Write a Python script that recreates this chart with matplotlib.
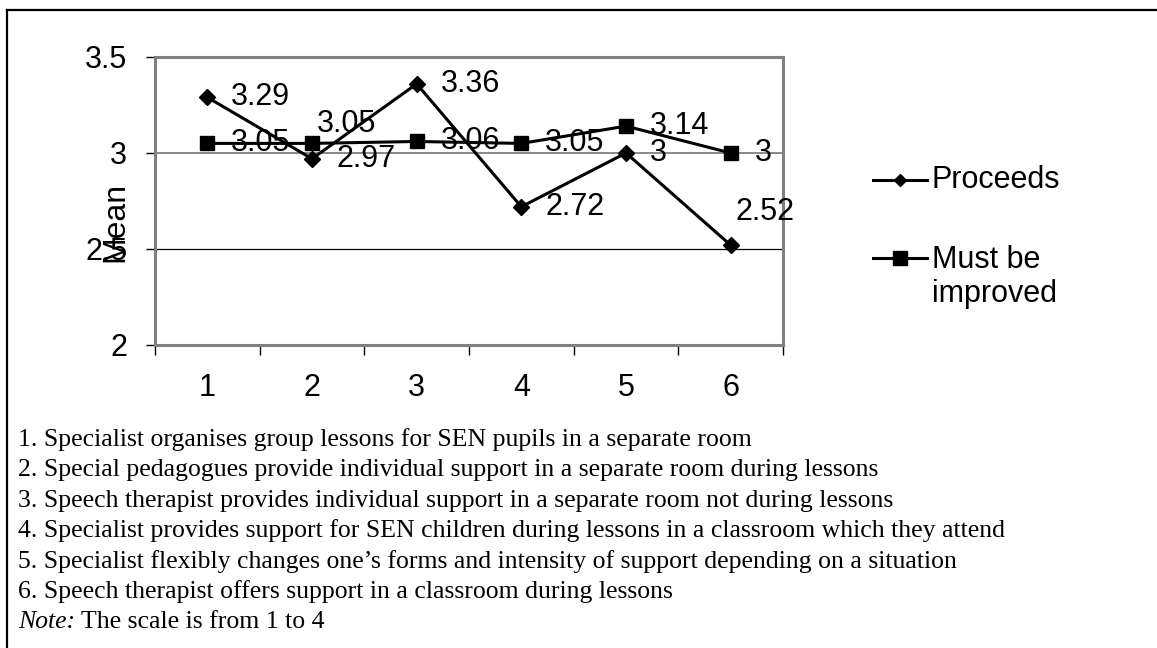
import matplotlib
matplotlib.use('Agg')
import matplotlib.pyplot as plt
from matplotlib.lines import Line2D

# ---- data ----
items     = [1, 2, 3, 4, 5, 6]
proceeds  = [3.29, 2.97, 3.36, 2.72, 3.00, 2.52]
improved  = [3.05, 3.05, 3.06, 3.05, 3.14, 3.00]
proc_lbls = ['3.29', '2.97', '3.36', '2.72', '3', '2.52']
impr_lbls = ['3.05', '3.05', '3.06', '3.05', '3.14', '3']
y_ticks   = [2, 2.5, 3, 3.5]
y_tlabels = ['2', '2.5', '3', '3.5']

notes = [
    '1. Specialist organises group lessons for SEN pupils in a separate room',
    '2. Special pedagogues provide individual support in a separate room during lessons',
    '3. Speech therapist provides individual support in a separate room not during lessons',
    '4. Specialist provides support for SEN children during lessons in a classroom which they attend',
    '5. Specialist flexibly changes one\u2019s forms and intensity of support depending on a situation',
    '6. Speech therapist offers support in a classroom during lessons',
]

# label offsets in pixels (Excel nudged a couple of them)
proc_off = [(24, 0), (24, 0), (24, 0), (24, 0), (24, 0), (5, 33)]
impr_off = [(24, 0), (5, 19), (24, 0), (24, 0), (24, 0), (24, 0)]

W, H = 1157, 648
SANS = 'Liberation Sans'
SERIF = 'Liberation Serif'

fig = plt.figure(figsize=(W / 100, H / 100), dpi=100)
ax = fig.add_axes([155 / W, 1 - 345 / H, 628 / W, 288 / H])

# gridlines: Excel drew the 3.0 one grey, the 2.5 one black
ax.axhline(3.0, color='#808080', linewidth=1.3, zorder=1)
ax.axhline(2.5, color='black', linewidth=0.9, zorder=1)

ax.plot(items, proceeds, color='black', linewidth=2.2, marker='D',
        markersize=8, zorder=3)
ax.plot(items, improved, color='black', linewidth=2.2, marker='s',
        markersize=9.5, zorder=3)

for x, y, s, (dx, dy) in zip(items, proceeds, proc_lbls, proc_off):
    ax.annotate(s, (x, y), xytext=(dx, dy), textcoords='offset pixels',
                ha='left', va='center', fontsize=22, family=SANS, zorder=4)
for x, y, s, (dx, dy) in zip(items, improved, impr_lbls, impr_off):
    ax.annotate(s, (x, y), xytext=(dx, dy), textcoords='offset pixels',
                ha='left', va='center', fontsize=22, family=SANS, zorder=4)

ax.set_xlim(0.5, 6.5)
ax.set_ylim(2, 3.5)
ax.set_xticks(items)
ax.set_xticklabels([str(i) for i in items], fontsize=22, family=SANS)
ax.set_xticks([i - 0.5 for i in items] + [6.5], minor=True)
ax.tick_params(axis='x', which='major', length=0, pad=20)
ax.tick_params(axis='x', which='minor', length=7, width=1, direction='out')
ax.set_yticks(y_ticks)
ax.set_yticklabels(y_tlabels, fontsize=22, family=SANS)
ax.tick_params(axis='y', length=6.5, width=1, pad=13.5, direction='out')

for side in ['left', 'right', 'top', 'bottom']:
    ax.spines[side].set_color('#808080')
    ax.spines[side].set_linewidth(2.2)

fig.text(115 / W, 1 - 222 / H, 'Mean', rotation=90, ha='center',
         va='center', fontsize=23, family=SANS)

# ---- legend (drawn by hand so the marker sits on the first line) ----
for yc, mk, ms in [(180, 'D', 6), (258, 's', 10)]:
    fy = 1 - yc / H
    fig.add_artist(Line2D([873 / W, 927 / W], [fy, fy], color='black',
                          linewidth=2.2, transform=fig.transFigure))
    fig.add_artist(Line2D([900 / W], [fy], color='black', marker=mk,
                          markersize=ms, transform=fig.transFigure))
fig.text(932 / W, 1 - 180 / H, 'Proceeds', ha='left', va='center',
         fontsize=22, family=SANS)
fig.text(932 / W, 1 - 277 / H, 'Must be\nimproved', ha='left', va='center',
         fontsize=22, family=SANS, linespacing=1.15)

# ---- outer frame (only top and left visible) ----
fig.add_artist(Line2D([7 / W, 1], [1 - 10 / H, 1 - 10 / H], color='black',
                      linewidth=1.6, transform=fig.transFigure))
fig.add_artist(Line2D([7 / W, 7 / W], [1 - 10 / H, 0], color='black',
                      linewidth=1.6, transform=fig.transFigure))

# ---- footnotes ----
for k, line in enumerate(notes):
    fig.text(18 / W, 1 - (440 + 30.3 * k) / H, line, ha='left', va='center',
             fontsize=18.5, family=SERIF)
t_note = fig.text(18 / W, 1 - (440 + 30.3 * 6) / H, 'Note:', ha='left',
                  va='center', fontsize=18.5, family=SERIF, style='italic')
ax.annotate(' The scale is from 1 to 4', xy=(1, 0), xycoords=t_note,
            ha='left', va='bottom', fontsize=18.5, family=SERIF,
            annotation_clip=False)

fig.savefig('out.png', dpi=100)
